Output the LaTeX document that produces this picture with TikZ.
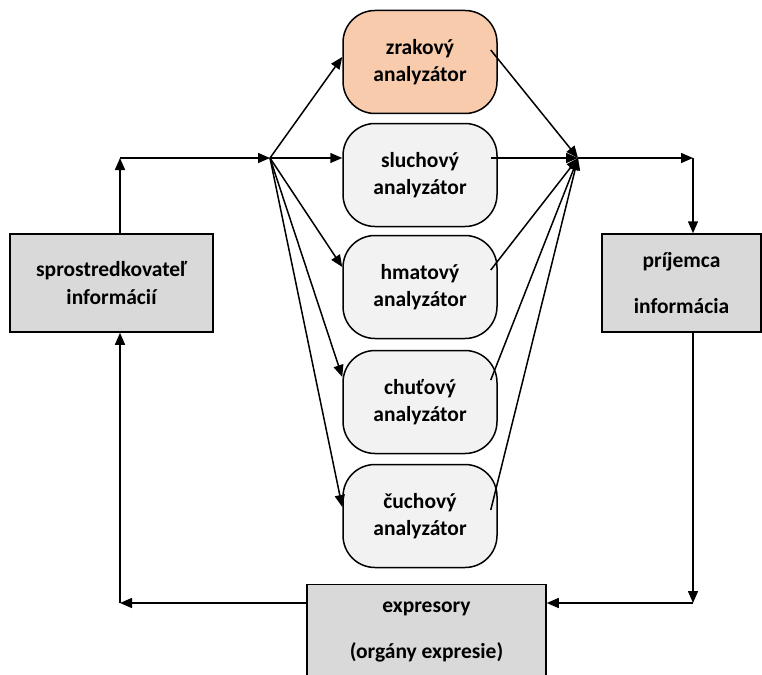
\documentclass[tikz,border=0pt]{standalone}
\usepackage{fontspec}
\setmainfont{Carlito}
\usetikzlibrary{arrows.meta}
\definecolor{peach}{HTML}{F8CBAD}
\definecolor{boxgray}{HTML}{D9D9D9}
\definecolor{anagray}{HTML}{F2F2F2}
\tikzset{
  >={Triangle[length=12pt,width=10pt]},
  graybox/.style={draw, fill=boxgray, align=center, font=\bfseries\fontsize{21.5}{46}\selectfont},
  analyzer/.style={draw, fill=anagray, rounded corners=32pt, minimum width=154pt, minimum height=103pt, align=center, font=\bfseries\fontsize{21.5}{27}\selectfont}
}

\begin{document}
\begin{tikzpicture}[x=1pt, y=-1pt, line width=1.5pt]
\useasboundingbox (0,0) rectangle (762,674);

% sender, receiver, expressors
\node[graybox, minimum width=203pt, minimum height=98pt, font=\bfseries\fontsize{21.5}{28}\selectfont] (sprost) at (111.5,283) {sprostredkovateľ\\informácií};
\node[graybox, minimum width=159pt, minimum height=98pt] (prij) at (681.5,283) {príjemca\\informácia};
\node[graybox, minimum width=239pt, minimum height=95pt] (expr) at (426.5,632) {expresory\\(orgány expresie)};

% analyzers
\node[analyzer, fill=peach] (zrak) at (420,62) {zrakový\\analyzátor};
\node[analyzer] (sluch) at (420,175) {sluchový\\analyzátor};
\node[analyzer] (hmat) at (420,287) {hmatový\\analyzátor};
\node[analyzer] (chut) at (420,402) {chuťový\\analyzátor};
\node[analyzer] (cuch) at (420,516) {čuchový\\analyzátor};

% corner points
\coordinate (split) at (270,158);
\coordinate (join) at (578,158);
\coordinate (upleft) at (120,158);
\coordinate (upright) at (693,158);
\coordinate (downright) at (693,603);
\coordinate (downleft) at (120,603);

% fan out and fan in
\foreach \name/\din/\dout in {zrak/5/12, sluch/17/17, hmat/20/17, chut/25/22, cuch/9/6}
{
  \draw[->] (split) -- ([yshift=\din pt]\name.west);
  \draw[->] ([xshift=-7pt,yshift=\dout pt]\name.east) -- (join);
}

% loop round
\draw[->] (sprost.north -| upleft) -- (upleft);
\draw[->] (upleft) -- (split);
\draw[->] (join) -- (upright);
\draw[->] (upright) -- (prij.north -| upright);
\draw[->] (prij.south -| upright) -- (downright);
\draw[->] (downright) -- (expr.east |- downright);
\draw[->] (expr.west |- downleft) -- (downleft);
\draw[->] (downleft) -- (sprost.south -| downleft);

\end{tikzpicture}
\end{document}
